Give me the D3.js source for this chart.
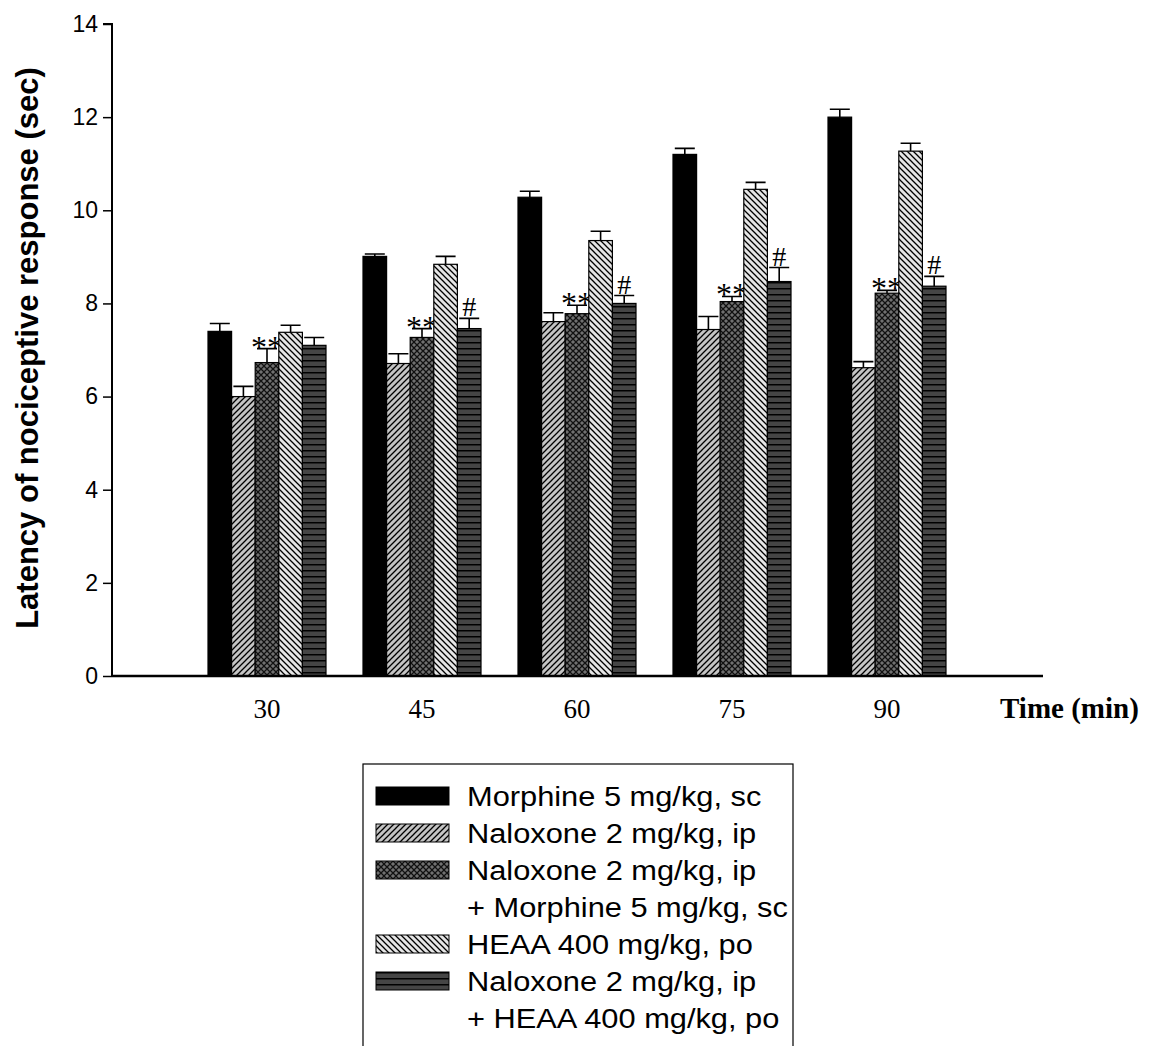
<!DOCTYPE html>
<html>
<head>
<meta charset="utf-8">
<script src="https://cdn.jsdelivr.net/npm/d3@7"></script>
<style>
  body { margin: 0; background: #fff; }
  svg { display: block; }
</style>
</head>
<body>
<svg id="chart" width="1153" height="1046"></svg>
<script>
// Time points (min)
const times = [30, 45, 60, 75, 90];

// Treatment groups, legend labels split into lines
const groupLabels = [
  ['Morphine 5 mg/kg, sc'],
  ['Naloxone 2 mg/kg, ip'],
  ['Naloxone 2 mg/kg, ip', '+ Morphine 5 mg/kg, sc'],
  ['HEAA 400 mg/kg, po'],
  ['Naloxone 2 mg/kg, ip', '+ HEAA 400 mg/kg, po'],
];

// Mean latency (sec) and SEM per group
const morphine = [7.4, 9.01, 10.28, 11.2, 12.0];
const morphineErr = [0.17, 0.05, 0.13, 0.13, 0.17];
const naloxone = [6.0, 6.71, 7.61, 7.44, 6.62];
const naloxoneErr = [0.22, 0.21, 0.19, 0.28, 0.13];
const naloxMorph = [6.73, 7.27, 7.78, 8.04, 8.22];
const naloxMorphErr = [0.3, 0.19, 0.18, 0.11, 0.06];
const heaa = [7.38, 8.84, 9.35, 10.45, 11.27];
const heaaErr = [0.15, 0.17, 0.2, 0.15, 0.17];
const naloxHeaa = [7.1, 7.46, 8.0, 8.47, 8.37];
const naloxHeaaErr = [0.17, 0.22, 0.17, 0.3, 0.21];

// Significance marks drawn above the error bars
const starMarks = ['**', '**', '**', '**', '**'];
const hashMarks = ['', '#', '#', '#', '#'];

const yTicks = [0, 2, 4, 6, 8, 10, 12, 14];

const series = [
  { values: morphine, errors: morphineErr, fill: 'url(#solid)' },
  { values: naloxone, errors: naloxoneErr, fill: 'url(#fwdHatch)' },
  { values: naloxMorph, errors: naloxMorphErr, fill: 'url(#crossHatch)', marks: starMarks },
  { values: heaa, errors: heaaErr, fill: 'url(#backHatch)' },
  { values: naloxHeaa, errors: naloxHeaaErr, fill: 'url(#hLines)', marks: hashMarks },
];

const serif = '"Times New Roman", "Liberation Serif", serif';
const sans = 'Arial, "Liberation Sans", sans-serif';

const svg = d3.select('#chart');

// Patterns for the bar fills
const defs = svg.append('defs');

defs.append('pattern')
  .attr('id', 'solid')
  .attr('patternUnits', 'userSpaceOnUse')
  .attr('width', 4).attr('height', 4)
  .append('rect').attr('width', 4).attr('height', 4).attr('fill', '#000');

const fwd = defs.append('pattern')
  .attr('id', 'fwdHatch')
  .attr('patternUnits', 'userSpaceOnUse')
  .attr('width', 6).attr('height', 6);
fwd.append('rect').attr('width', 6).attr('height', 6).attr('fill', '#c4c4c4');
fwd.append('path')
  .attr('d', 'M-1,7 L7,-1 M-4,4 L4,-4 M2,10 L10,2')
  .attr('stroke', '#000').attr('stroke-width', 1.3);

const back = defs.append('pattern')
  .attr('id', 'backHatch')
  .attr('patternUnits', 'userSpaceOnUse')
  .attr('width', 6).attr('height', 6);
back.append('rect').attr('width', 6).attr('height', 6).attr('fill', '#e6e6e6');
back.append('path')
  .attr('d', 'M-1,-1 L7,7 M-4,2 L4,10 M2,-4 L10,4')
  .attr('stroke', '#000').attr('stroke-width', 1.3);

const cross = defs.append('pattern')
  .attr('id', 'crossHatch')
  .attr('patternUnits', 'userSpaceOnUse')
  .attr('width', 6).attr('height', 6);
cross.append('rect').attr('width', 6).attr('height', 6).attr('fill', '#707070');
cross.append('path')
  .attr('d', 'M-1,-1 L7,7 M-1,7 L7,-1')
  .attr('stroke', '#111').attr('stroke-width', 1.3);

const hl = defs.append('pattern')
  .attr('id', 'hLines')
  .attr('patternUnits', 'userSpaceOnUse')
  .attr('width', 6).attr('height', 6);
hl.append('rect').attr('width', 6).attr('height', 6).attr('fill', '#454545');
hl.append('line')
  .attr('x1', 0).attr('x2', 6).attr('y1', 0.75).attr('y2', 0.75)
  .attr('stroke', '#000').attr('stroke-width', 1.5);

// Scales
const x = d3.scaleLinear().domain([15, 105]).range([112, 1042]);
const y = d3.scaleLinear().domain([0, 14]).range([676, 24]);
const barW = 23.6;
const offset = (i) => (i - series.length / 2) * barW;

// Y axis
const yAxis = svg.append('g')
  .attr('transform', 'translate(112,0)')
  .call(d3.axisLeft(y).tickValues(yTicks).tickSize(9).tickPadding(5));
yAxis.select('.domain').attr('stroke-width', 2).attr('d', `M-9,${y(14)}H0V${y(0)}`);
yAxis.selectAll('.tick line').attr('stroke-width', 1.5);
yAxis.selectAll('.tick text')
  .style('font-family', sans)
  .style('font-size', '23px')
  .attr('fill', '#000');

// Bars
series.forEach((s, i) => {
  const g = svg.append('g');

  g.selectAll('rect')
    .data(s.values)
    .enter()
    .append('rect')
    .attr('x', (d, j) => x(times[j]) + offset(i))
    .attr('y', (d) => y(d))
    .attr('width', barW)
    .attr('height', (d) => y(0) - y(d))
    .attr('fill', s.fill)
    .attr('stroke', '#000')
    .attr('stroke-width', 1.2);

  // Error bars (upper half only)
  const cx = (j) => x(times[j]) + offset(i) + barW / 2;
  g.selectAll('path.err')
    .data(s.values)
    .enter()
    .append('path')
    .attr('class', 'err')
    .attr('d', (d, j) => {
      const top = y(d + s.errors[j]);
      return `M${cx(j)},${y(d)}V${top}M${cx(j) - 10},${top}H${cx(j) + 10}`;
    })
    .attr('fill', 'none')
    .attr('stroke', '#000')
    .attr('stroke-width', 1.6);

  if (s.marks) {
    const isStar = s.marks[0] === '**';
    g.selectAll('text.mark')
      .data(s.marks)
      .enter()
      .append('text')
      .attr('class', 'mark')
      .attr('x', (d, j) => cx(j))
      .attr('y', (d, j) => y(s.values[j] + s.errors[j]) + (isStar ? 9 : -2))
      .attr('text-anchor', 'middle')
      .style('font-family', serif)
      .style('font-size', isStar ? '32px' : '28px')
      .text((d) => d);
  }
});

// X axis: plain line, labels at each time point
svg.append('line')
  .attr('x1', 112).attr('x2', 1043)
  .attr('y1', y(0)).attr('y2', y(0))
  .attr('stroke', '#000').attr('stroke-width', 2.5);

svg.append('g')
  .selectAll('text')
  .data(times)
  .enter()
  .append('text')
  .attr('x', (d) => x(d))
  .attr('y', 718)
  .attr('text-anchor', 'middle')
  .style('font-family', serif)
  .style('font-size', '27px')
  .text((d) => d);

svg.append('text')
  .attr('x', 1000)
  .attr('y', 718)
  .style('font-family', serif)
  .style('font-size', '29px')
  .style('font-weight', 'bold')
  .text('Time (min)');

// Y axis title
svg.append('text')
  .attr('transform', 'translate(38,348) rotate(-90)')
  .attr('text-anchor', 'middle')
  .style('font-family', sans)
  .style('font-size', '31px')
  .style('font-weight', 'bold')
  .text('Latency of nociceptive response (sec)');

// Legend
const legend = svg.append('g');
legend.append('rect')
  .attr('x', 363).attr('y', 764)
  .attr('width', 430).attr('height', 310)
  .attr('fill', 'none')
  .attr('stroke', '#000')
  .attr('stroke-width', 1.2);

const lineH = 37;
let row = 0;
groupLabels.forEach((lines, i) => {
  const cy = 796 + row * lineH;
  legend.append('rect')
    .attr('x', 376).attr('y', cy - 9)
    .attr('width', 73).attr('height', 18)
    .attr('fill', series[i].fill)
    .attr('stroke', '#000')
    .attr('stroke-width', 1);
  lines.forEach((t, k) => {
    legend.append('text')
      .attr('transform', `translate(467,${cy + k * lineH + 10}) scale(1.1,1)`)
      .style('font-family', sans)
      .style('font-size', '28px')
      .text(t);
  });
  row += lines.length;
});
</script>
</body>
</html>
